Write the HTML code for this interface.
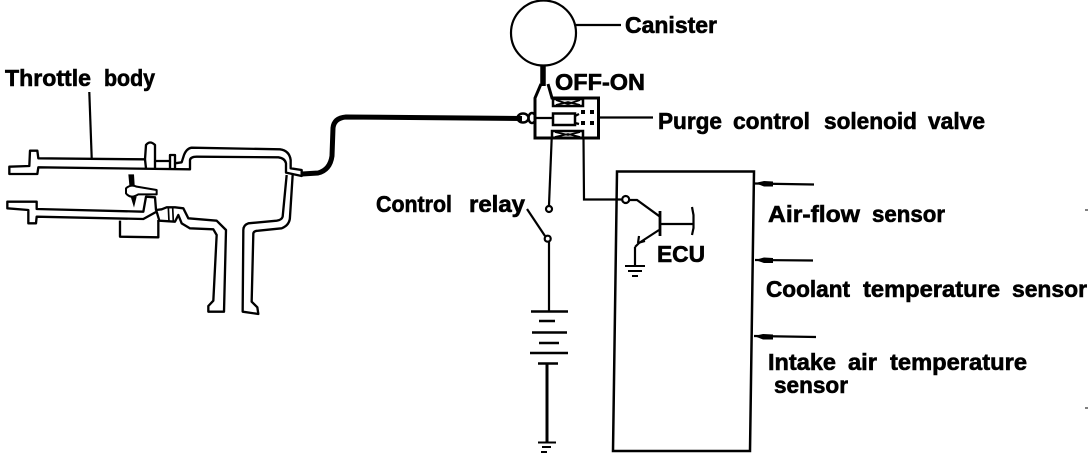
<!DOCTYPE html>
<html><head><meta charset="utf-8"><style>
html,body{margin:0;padding:0;background:#fff;width:1088px;height:462px;overflow:hidden}
svg{display:block}
text{font-family:"Liberation Sans",sans-serif;font-weight:bold;fill:#000;stroke:#000;stroke-width:.6px}
</style></head><body>
<svg width="1088" height="462" viewBox="0 0 1088 462" xmlns="http://www.w3.org/2000/svg">
<rect width="1088" height="462" fill="#fff"/>
<g transform="translate(0,60) scale(.33333)" fill="none" stroke="#000" stroke-width="7" stroke-linejoin="round">
<path d="M28,320 L88,318 L90,272 L112,272 L115,295 L435,298 L438,255 Q450,240 465,255 L465,303 L510,303 L510,285 L525,285 L525,310 L545,307 L552,285 Q560,265 575,263 L840,268 Q868,272 872,300 L872,325 L905,330 L905,348 L858,338 L858,310 Q855,295 835,292 L590,290 Q572,290 570,300 L570,328 L115,322 L112,342 L28,342 Z"/>
<path d="M435,298 L438,325 M465,303 L465,325 M510,303 L510,325 M525,310 L525,325"/>
<path d="M860,345 L848,470 Q845,480 830,482 L745,490 Q730,495 730,510 L728,755 L775,762 L772,742 L755,725 L760,520 Q762,512 775,512 L845,505 Q870,495 870,470 L878,345"/>
<path d="M22,425 L110,425 L110,447 L430,455 L438,410 L465,412 L468,450 L485,448 L500,442 L525,442 L550,445 L565,475 L650,482 L678,510 L672,755 L625,755 L625,738 L640,722 L650,525 L640,508 L570,505 L545,490 L535,465 L525,485 L478,482 L470,455 L430,477 L110,470 L108,490 L85,490 L85,450 L22,445 Z"/>
<path d="M360,482 L360,530 L475,532 L475,480"/>
<path d="M505,442 L507,485 M518,442 L520,485" stroke-width="5"/>
<path d="M385,343 L402,343 L404,375 L388,375 Z" fill="#000" stroke="none"/>
<path d="M392,410 L402,443 L410,410 Z" fill="#000" stroke="none"/>
<path d="M378,385 Q392,372 410,380 L470,390 L470,403 L415,403 Q392,418 378,400 Z" stroke-width="6"/>
</g>
<path d="M302,174 L318,173 Q330,170 332,156 L333,128 Q334,118 346,117 L522,118.500" fill="none" stroke="#000" stroke-width="5"/>
<g fill="none" stroke="#000" stroke-width="2.200">
<path d="M89.300,92 L91.700,158"/>
<circle cx="543.500" cy="33" r="32.500"/>
<path d="M576,25 L621,25"/>
<path d="M543,65 L543,86" stroke-width="5.500"/>
<path d="M541,84 L535,98 L535,138 L598.500,138 L598.500,98 L552,98 L548,84" stroke-width="3"/>
<rect x="553" y="99" width="30" height="7" stroke-width="2.500"/>
<path d="M556,100 L568,104 L580,100 M556,105 L568,102 L580,105" stroke-width="1.800"/>
<rect x="552" y="131" width="31" height="7" stroke-width="2.500"/>
<path d="M555,132 L568,135 L580,132 M555,137 L568,134 L580,137" stroke-width="1.800"/>
<rect x="553" y="113.500" width="22" height="11.500" stroke-width="2.500"/>
<ellipse cx="523" cy="118" rx="5.500" ry="4.500" stroke-width="2.500"/>
<ellipse cx="532" cy="118" rx="3.500" ry="5" stroke-width="2.500"/>
<path d="M536,118 L553,118 M575,116 L579,114 M575,123 L579,124"/>
<path d="M600,117.500 L653,117.500"/>
<path d="M551.700,138 L549,205"/>
<circle cx="549" cy="209" r="3"/>
<path d="M527,209 L545,236"/>
<circle cx="547.700" cy="238.700" r="3"/>
<path d="M549,242 L549,311"/>
<path d="M531,311.500 L568,311.500 M532,332.500 L567,332.500 M530,353 L568,353 M538,363.500 L558,363.500" stroke-width="2.500"/>
<path d="M539,321 L555,321 M539,343 L559,343" stroke-width="2.500"/>
<path d="M547,364 L547,442" stroke-width="3"/>
<path d="M538,442.500 L556,442.500 M542,447 L551,447 M541,452 L547,452" stroke-width="2"/>
<path d="M617,171.500 L754,171.500 L750,451 L613,451 Z" stroke-width="2.500"/>
<path d="M583.500,138 L584,199.500 L622,199.500"/>
<circle cx="625.700" cy="199.500" r="3.500"/>
<path d="M629,200 L637,200 L660,216.700"/>
<path d="M660,211 L660,236" stroke-width="2.800"/>
<path d="M660,224 L693,224"/>
<path d="M692,207 L693.500,215 L693.500,228 L692,235"/>
<path d="M659,230 L639,243 M635,247 L635,265"/>
<path d="M638,243 L645,241 M638,243 L639,236 M639,243 L635,247"/>
<path d="M625,266 L645,266 M628,271 L642,271 M632,276 L638,276" stroke-width="2"/>
<path d="M755,183.500 L814,184.500 M755,260 L813,260.500 M754,336 L816,337"/>
<path d="M1085,210 L1088,210 M1085,408 L1088,408" stroke-width="1"/>
</g>
<g fill="#000">
<path d="M755,183 L764,181 L773,181.500 L773,186.500 L764,186.500 Z"/>
<path d="M755,260 L764,257.500 L773,258 L773,263 L764,263 Z"/>
<path d="M754,336 L763,334 L773,334.500 L773,339.500 L763,339.500 Z"/>
<rect x="581" y="110" width="4" height="4"/><rect x="590" y="110" width="4" height="4"/>
<rect x="581" y="121" width="4" height="4"/><rect x="590" y="121" width="4" height="4"/>
</g>
<g font-size="23">
<text x="5" y="86" textLength="86" lengthAdjust="spacingAndGlyphs">Throttle</text>
<text x="104" y="86" textLength="51" lengthAdjust="spacingAndGlyphs">body</text>
<text x="625" y="33" textLength="92" lengthAdjust="spacingAndGlyphs">Canister</text>
<text x="555" y="90" textLength="90" lengthAdjust="spacingAndGlyphs">OFF-ON</text>
<text x="658" y="129" textLength="64" lengthAdjust="spacingAndGlyphs">Purge</text>
<text x="733" y="129" textLength="77" lengthAdjust="spacingAndGlyphs">control</text>
<text x="824" y="129" textLength="93" lengthAdjust="spacingAndGlyphs">solenoid</text>
<text x="928" y="129" textLength="57" lengthAdjust="spacingAndGlyphs">valve</text>
<text x="376" y="212" textLength="76" lengthAdjust="spacingAndGlyphs">Control</text>
<text x="469" y="212" textLength="56" lengthAdjust="spacingAndGlyphs">relay</text>
<text x="657" y="262" textLength="48" lengthAdjust="spacingAndGlyphs">ECU</text>
<text x="768" y="222" textLength="92" lengthAdjust="spacingAndGlyphs">Air-flow</text>
<text x="872" y="222" textLength="73" lengthAdjust="spacingAndGlyphs">sensor</text>
<text x="766" y="297" textLength="84" lengthAdjust="spacingAndGlyphs">Coolant</text>
<text x="863" y="297" textLength="137" lengthAdjust="spacingAndGlyphs">temperature</text>
<text x="1012" y="297" textLength="75" lengthAdjust="spacingAndGlyphs">sensor</text>
<text x="768" y="370" textLength="68" lengthAdjust="spacingAndGlyphs">Intake</text>
<text x="848" y="370" textLength="29" lengthAdjust="spacingAndGlyphs">air</text>
<text x="890" y="370" textLength="137" lengthAdjust="spacingAndGlyphs">temperature</text>
<text x="774" y="393" textLength="74" lengthAdjust="spacingAndGlyphs">sensor</text>
</g>
</svg>
</body></html>
